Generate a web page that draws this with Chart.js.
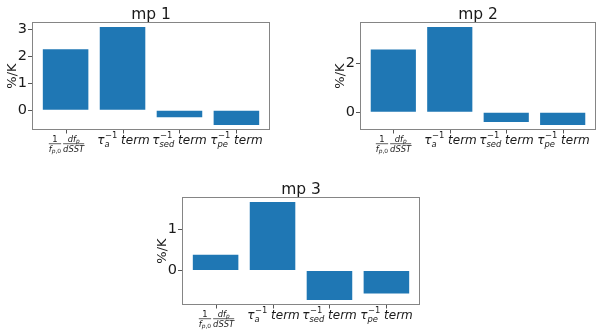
<!DOCTYPE html>
<html>
<head>
<meta charset="utf-8">
<script src="https://cdn.jsdelivr.net/npm/chart.js@4.4.1/dist/chart.umd.min.js"></script>
<style>
    html, body { margin: 0; padding: 0; background: #fff; }
    body { width: 597px; height: 335px; position: relative; overflow: hidden; }
    canvas { position: absolute; }
</style>
</head>
<body>
<canvas id="mp1" width="290" height="165" style="left:0px;top:0px"></canvas>
<canvas id="mp2" width="269" height="165" style="left:328px;top:0px"></canvas>
<canvas id="mp3" width="290" height="160" style="left:150px;top:175px"></canvas>
<script>
// Category labels (mathtext-style) shared by all three panels
const categories = [
    '\\frac{1}{f_{p,0}}\\frac{df_p}{dSST}',
    '\\tau_a^{-1}\\ term',
    '\\tau_{sed}^{-1}\\ term',
    '\\tau_{pe}^{-1}\\ term'
];

const mp1Values = [2.25, 3.08, -0.26, -0.55];
const mp2Values = [2.57, 3.50, -0.40, -0.53];
const mp3Values = [0.38, 1.66, -0.72, -0.56];

const mp1Ticks = [0, 1, 2, 3];
const mp2Ticks = [0, 2];
const mp3Ticks = [0, 1];

const BAR_COLOR = '#1f77b4';
const TEXT_COLOR = '#1a1a1a';
const FONT = '"DejaVu Sans", sans-serif';

const SYMBOLS = { tau: 'τ' };

// --- tiny mathtext renderer for the tick labels ---
function parseMath(src) {
    let i = 0;
    function token() {
        if (src[i] === '\\') {
            let j = i + 1;
            if (!/[a-zA-Z]/.test(src[j])) {
                i = j + 1;
                return { text: src[j] };
            }
            while (j < src.length && /[a-zA-Z]/.test(src[j])) j++;
            const name = src.slice(i + 1, j);
            i = j;
            if (name === 'frac') {
                const num = group();
                const den = group();
                return { frac: [num, den] };
            }
            return { text: SYMBOLS[name] || name };
        }
        return { text: src[i++] };
    }
    function group() {
        if (src[i] === '{') {
            i++;
            const seq = parseSeq('}');
            i++;
            return seq;
        }
        return [token()];
    }
    function parseSeq(end) {
        const seq = [];
        while (i < src.length && src[i] !== end) {
            const c = src[i];
            if (c === '_' || c === '^') {
                i++;
                const g = group();
                seq[seq.length - 1][c === '_' ? 'sub' : 'sup'] = g;
            } else if (c === '{') {
                i++;
                seq.push(...parseSeq('}'));
                i++;
            } else if (c === ' ') {
                i++;
            } else {
                seq.push(token());
            }
        }
        return seq;
    }
    return parseSeq();
}

function setFont(ctx, size, italic) {
    ctx.font = (italic ? 'italic ' : '') + size + 'px ' + FONT;
}

// returns width; draws only when draw is true
function renderSeq(ctx, seq, x, y, size, draw) {
    let w = 0;
    seq.forEach(atom => {
        let aw = 0;
        if (atom.frac) {
            const fs = size * 0.7;
            const nw = renderSeq(ctx, atom.frac[0], 0, 0, fs, false);
            const dw = renderSeq(ctx, atom.frac[1], 0, 0, fs, false);
            const bw = Math.max(nw, dw);
            aw = bw + 2;
            if (draw) {
                const bx = x + w + 1;
                const barY = y - 0.5;
                renderSeq(ctx, atom.frac[0], bx + (bw - nw) / 2, barY - 2, fs, true);
                renderSeq(ctx, atom.frac[1], bx + (bw - dw) / 2, barY + 1.6 + fs * 0.73, fs, true);
                ctx.fillRect(bx, barY - 0.35, bw, 0.7);
            }
        } else {
            const txt = atom.text === '-' ? '−' : atom.text;
            const italic = /[a-zA-Zα-ω]/.test(txt);
            setFont(ctx, size, italic);
            aw = ctx.measureText(txt).width;
            if (draw) ctx.fillText(txt, x + w, y);
        }
        if (atom.sub || atom.sup) {
            const ss = size * 0.7;
            let sw = 0;
            if (atom.sup) {
                sw = Math.max(sw, renderSeq(ctx, atom.sup, x + w + aw + 0.5, y - size * 0.5, ss, draw) + 0.5);
            }
            if (atom.sub) {
                sw = Math.max(sw, renderSeq(ctx, atom.sub, x + w + aw, y + size * (atom.sup ? 0.2 : 0.18), ss, draw));
            }
            aw += sw;
        }
        w += aw;
    });
    return w;
}

const parsedLabels = categories.map(parseMath);

function yLimits(values) {
    const lo = Math.min(0, ...values);
    const hi = Math.max(0, ...values);
    const m = (hi - lo) * 0.05;
    return [lo - m, hi + m];
}

function makePanel(id, title, values, ticks) {
    const [yMin, yMax] = yLimits(values);
    const n = categories.length;
    const xPad = (n - 1 + 0.8) * 0.05;

    const framePlugin = {
        id: 'frame',
        afterDraw(chart) {
            const { ctx, chartArea: a } = chart;
            const xs = chart.scales.x;
            ctx.save();
            // axes box
            ctx.strokeStyle = '#858585';
            ctx.lineWidth = 1;
            ctx.strokeRect(Math.round(a.left) + 0.5, Math.round(a.top) + 0.5,
                Math.round(a.right - a.left) - 1, Math.round(a.bottom - a.top) - 1);
            // x tick marks and math labels
            ctx.fillStyle = TEXT_COLOR;
            ctx.strokeStyle = '#555';
            ctx.textBaseline = 'alphabetic';
            ctx.textAlign = 'left';
            parsedLabels.forEach((seq, i) => {
                const px = Math.round(xs.getPixelForValue(i)) + 0.5;
                ctx.beginPath();
                ctx.moveTo(px, a.bottom);
                ctx.lineTo(px, a.bottom + 3.5);
                ctx.stroke();
                const size = 12;
                const w = renderSeq(ctx, seq, 0, 0, size, false);
                renderSeq(ctx, seq, px - w / 2, a.bottom + 14.3, size, true);
            });
            // panel title
            ctx.font = '15.5px ' + FONT;
            ctx.textAlign = 'center';
            ctx.fillText(title, (a.left + a.right) / 2, a.top - 3.5);
            ctx.restore();
        }
    };

    return new Chart(document.getElementById(id), {
        type: 'bar',
        data: {
            datasets: [{
                data: values.map((v, i) => ({ x: i, y: v })),
                backgroundColor: BAR_COLOR,
                borderWidth: 0,
                categoryPercentage: 1,
                barPercentage: 0.8
            }]
        },
        options: {
            responsive: false,
            devicePixelRatio: 1,
            animation: false,
            events: [],
            layout: { padding: { top: 22, right: id === 'mp2' ? 1 : 20, bottom: id === 'mp3' ? 30 : 35, left: 0 } },
            plugins: {
                legend: { display: false },
                tooltip: { enabled: false }
            },
            scales: {
                x: {
                    type: 'linear',
                    display: false,
                    offset: false,
                    min: -0.4 - xPad,
                    max: n - 1 + 0.4 + xPad,
                    afterBuildTicks: (scale) => {
                        scale.ticks = categories.map((c, i) => ({ value: i }));
                    }
                },
                y: {
                    min: yMin,
                    max: yMax,
                    afterBuildTicks: (scale) => {
                        scale.ticks = ticks.map(v => ({ value: v }));
                    },
                    afterFit: (scale) => {
                        scale.width = 32;
                    },
                    border: { display: false },
                    grid: {
                        drawOnChartArea: false,
                        drawTicks: true,
                        tickLength: 4,
                        color: '#555'
                    },
                    ticks: {
                        padding: 1,
                        color: TEXT_COLOR,
                        font: { family: FONT, size: 14.5 }
                    },
                    title: {
                        display: true,
                        text: '%/K',
                        color: TEXT_COLOR,
                        padding: { top: 5, bottom: 0 },
                        font: { family: FONT, size: 13 }
                    }
                }
            }
        },
        plugins: [framePlugin]
    });
}

document.addEventListener('DOMContentLoaded', () => {
    makePanel('mp1', 'mp 1', mp1Values, mp1Ticks);
    makePanel('mp2', 'mp 2', mp2Values, mp2Ticks);
    makePanel('mp3', 'mp 3', mp3Values, mp3Ticks);
});
</script>
</body>
</html>
